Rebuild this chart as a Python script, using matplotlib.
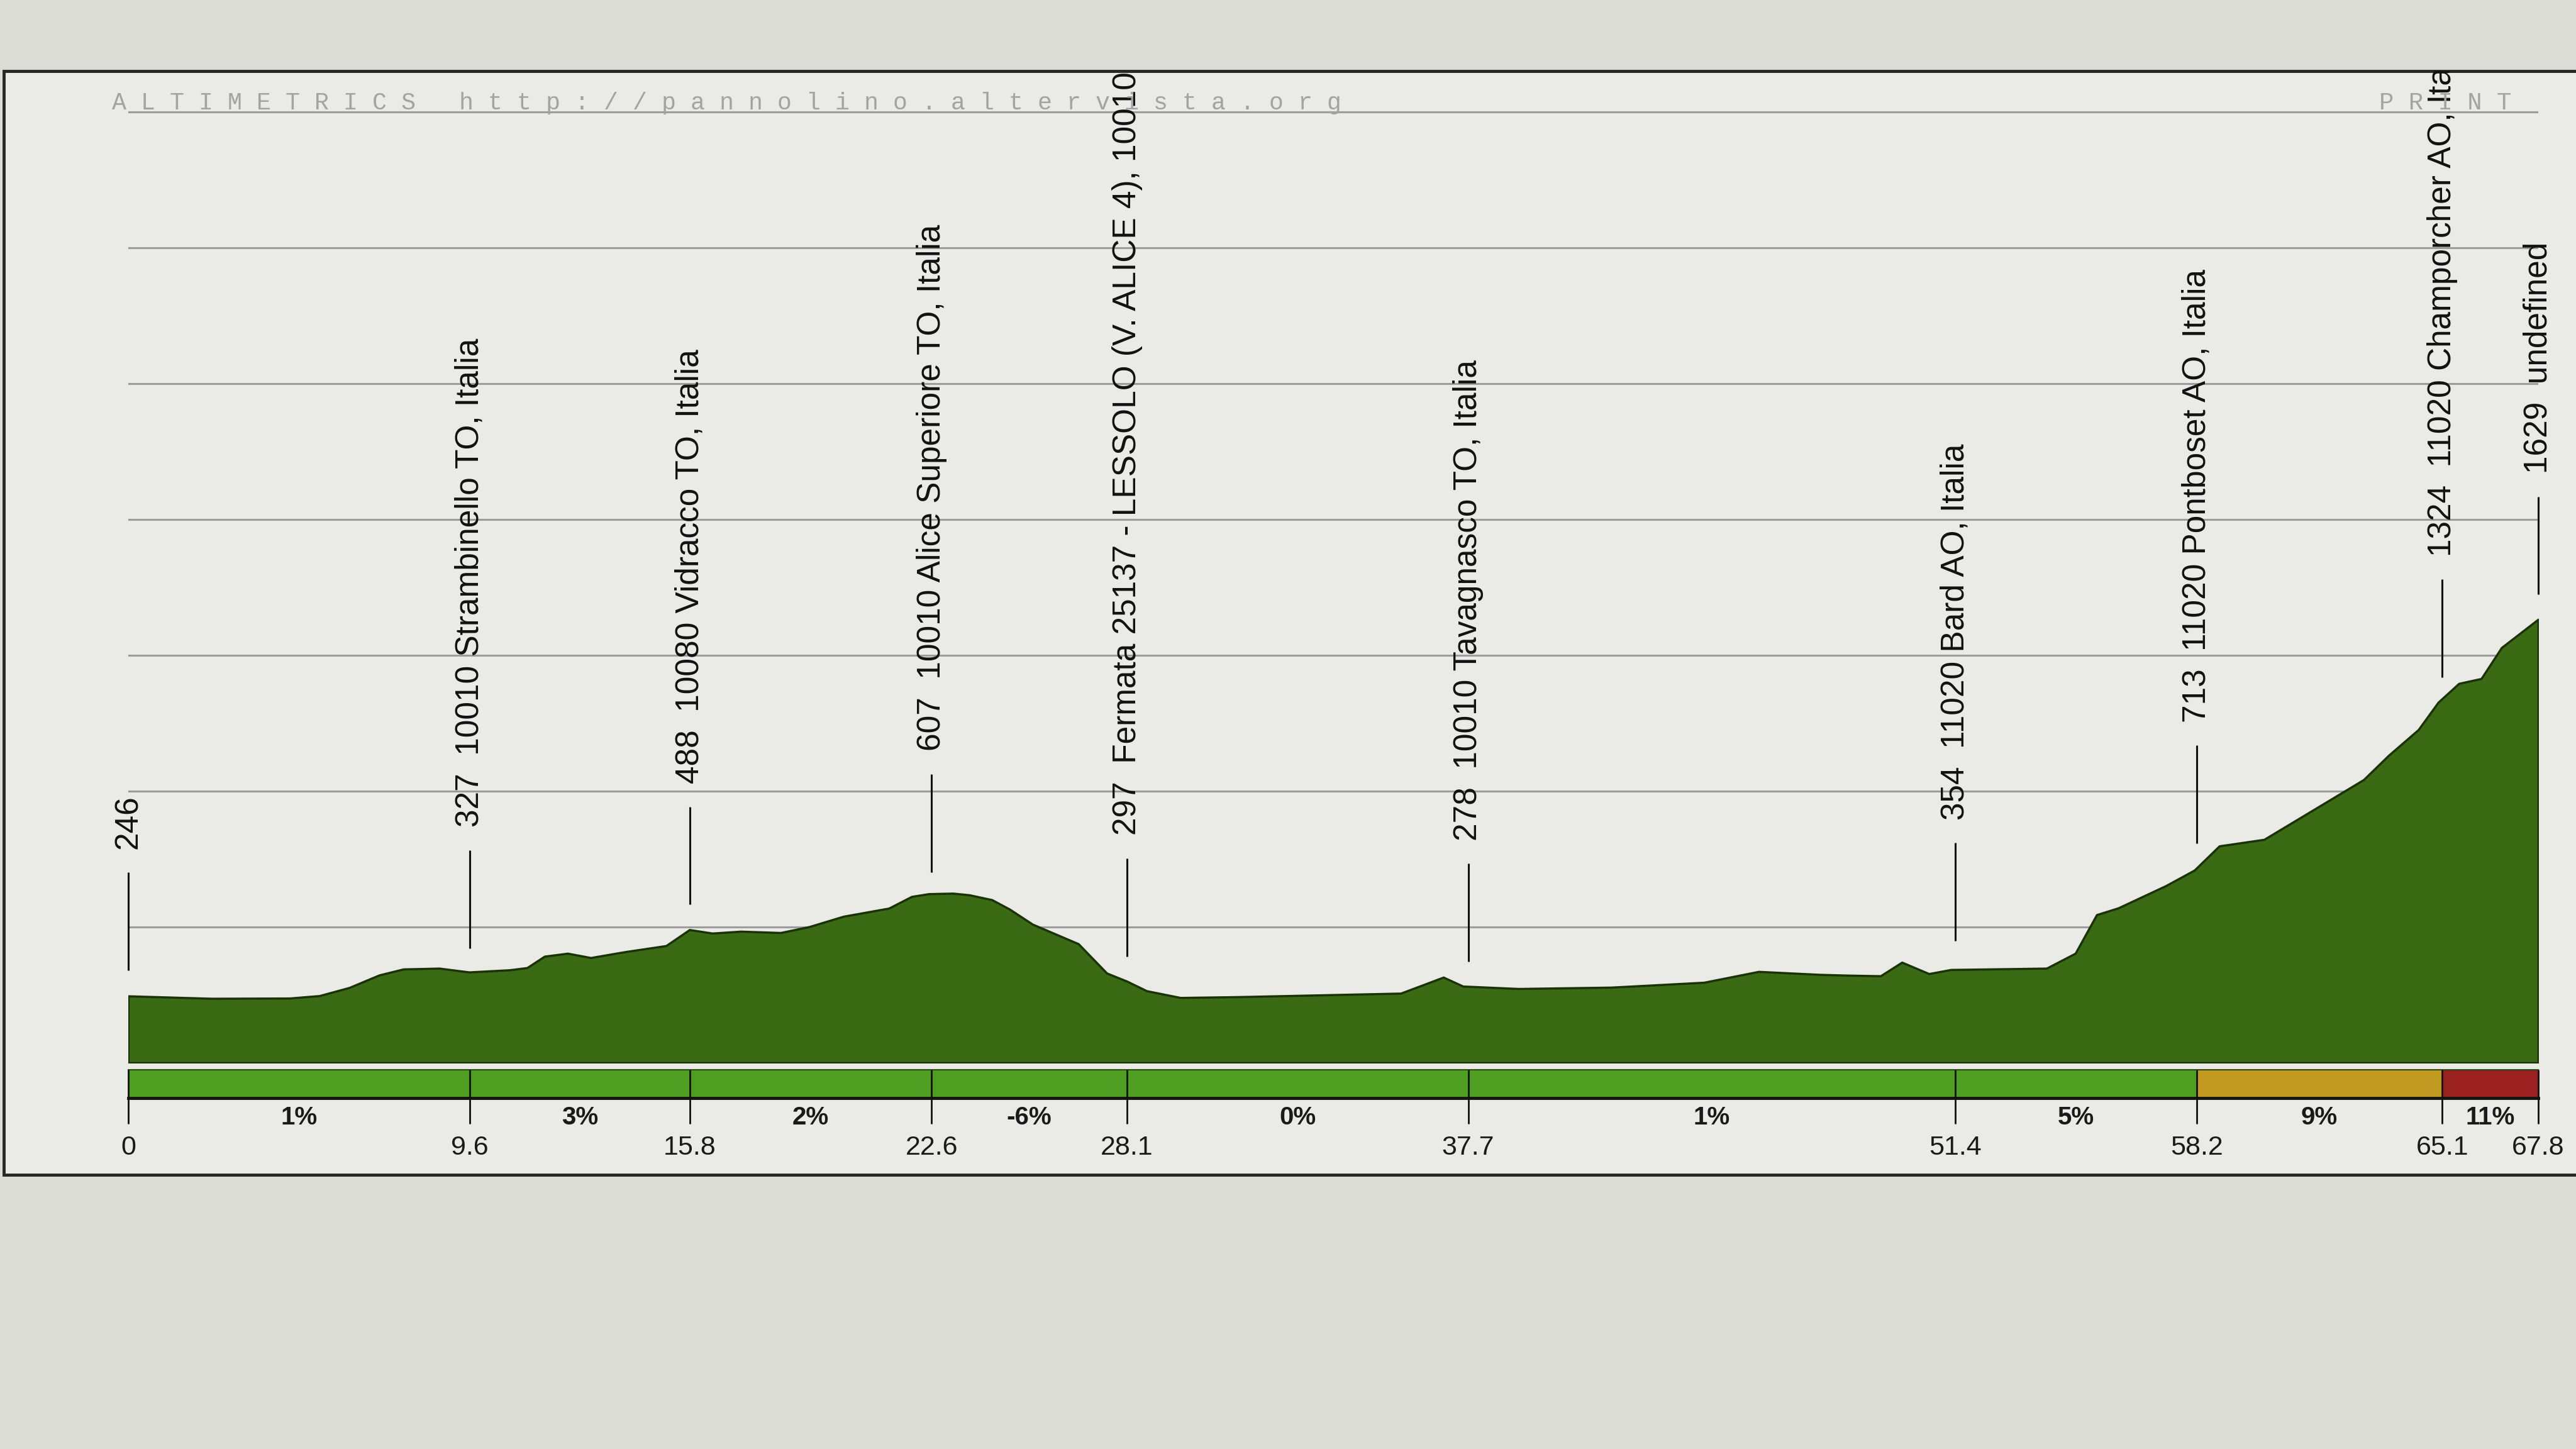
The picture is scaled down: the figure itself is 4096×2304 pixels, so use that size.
import matplotlib
matplotlib.use("Agg")
import matplotlib.pyplot as plt
from matplotlib.patches import Rectangle
from matplotlib.transforms import Bbox, TransformedBbox

# ---------------- data ----------------
profile_km = [0, 2.35, 4.54, 5.38, 6.22, 7.06, 7.74, 8.75, 9.59, 10.73,
              11.22, 11.71, 12.36, 13.01, 13.99, 15.13, 15.79, 16.43, 17.23, 18.35,
              19.16, 20.12, 21.40, 22.04, 22.52, 23.2, 23.66, 24.3, 24.8, 25.44,
              26.73, 27.53, 28.1, 28.65, 29.6, 31.2, 35.8, 37.0, 37.55, 39.11,
              41.72, 44.33, 45.87, 47.6, 48.45, 49.3, 49.9, 50.66, 51.28, 53.97,
              54.78, 55.38, 55.99, 57.33, 58.13, 58.83, 60.09, 61.21, 62.89, 63.59,
              64.43, 64.99, 65.57, 66.2, 66.77, 67.8]
profile_elev = [246, 237, 238, 247, 277, 323, 345, 348, 334, 342,
                350, 392, 403, 387, 409, 431, 490, 477, 484, 479,
                501, 539, 569, 612, 622, 624, 618, 600, 565, 510,
                438, 330, 300, 265, 240, 243, 256, 315, 282, 273,
                278, 296, 336, 325, 322, 320, 370, 328, 343, 348,
                403, 545, 570, 652, 709, 798, 822, 910, 1042, 1131,
                1226, 1327, 1396, 1414, 1528, 1632]

waypoint_km = [0, 9.6, 15.8, 22.6, 28.1, 37.7, 51.4, 58.2, 65.1, 67.8]
waypoint_elev = [246, 327, 488, 607, 297, 278, 354, 713, 1324, 1629]
waypoint_names = ["",
                  "10010 Strambinello TO, Italia",
                  "10080 Vidracco TO, Italia",
                  "10010 Alice Superiore TO, Italia",
                  "Fermata 25137 - LESSOLO (V. ALICE 4), 10010 Alice Superiore TO, Italia",
                  "10010 Tavagnasco TO, Italia",
                  "11020 Bard AO, Italia",
                  "11020 Pontboset AO, Italia",
                  "11020 Champorcher AO, Italia",
                  "undefined"]
km_labels = ["0", "9.6", "15.8", "22.6", "28.1", "37.7", "51.4", "58.2", "65.1", "67.8"]
segment_grade = [1, 3, 2, -6, 0, 1, 5, 9, 11]
grid_elev = [500, 1000, 1500, 2000, 2500, 3000, 3500]
header_left = "ALTIMETRICS"
header_url = "http://pannolino.altervista.org"
header_right = "PRINT"

# ---------------- style / layout ----------------
BG_OUT = "#dcdcd7"
BG_IN = "#eaeae6"
PROFILE = "#3b6a15"
EDGE = "#1b3209"
def grade_color(g):
    if g >= 10:
        return "#9b2020"
    if g >= 8:
        return "#c29a22"
    return "#4e9e22"

SANS = ["Liberation Sans", "DejaVu Sans"]
MONO = ["Liberation Mono", "DejaVu Sans Mono"]

L, W = 0.0498, 0.9355
FRAME_BOT, FRAME_TOP = 0.1892, 0.951
PROF_BOT = 0.2665
BAR_BOT, BAR_H = 0.2422, 0.0195
YTOP = 3650

fig = plt.figure(figsize=(40.96, 23.04), dpi=100, facecolor=BG_OUT)

frame = Rectangle((0.0015, FRAME_BOT), 1.05, FRAME_TOP - FRAME_BOT,
                  transform=fig.transFigure, facecolor=BG_IN,
                  edgecolor="#262626", lw=3.5, zorder=0)
fig.add_artist(frame)

ax = fig.add_axes([L, PROF_BOT, W, FRAME_TOP - PROF_BOT])
ax.patch.set_visible(False)
ax.set_xlim(0, waypoint_km[-1])
ax.set_ylim(0, YTOP)
ax.set_yticks(grid_elev)
ax.set_xticks([])
ax.tick_params(length=0, labelleft=False, labelbottom=False)
for s in ax.spines.values():
    s.set_visible(False)
ax.set_axisbelow(True)
ax.grid(axis="y", color="#9c9c9c", lw=2.2)

ax.fill_between(profile_km, profile_elev, 0, facecolor=PROFILE,
                edgecolor=EDGE, lw=2.5, zorder=2)

clipbox = TransformedBbox(Bbox.from_extents(0, 0, 1, FRAME_TOP), fig.transFigure)
for km, el, name in zip(waypoint_km, waypoint_elev, waypoint_names):
    ax.vlines(km, el + 95, el + 455, color="#111111", lw=2.2, clip_on=False, zorder=4)
    label = f"{el}  {name}" if name else f"{el}"
    t = ax.text(km, el + 540, label, rotation=90, ha="center", va="bottom",
                fontsize=37, family=SANS, color="#111111", zorder=5)
    t.set_clip_box(clipbox)
    t.set_clip_on(True)

# gradient bar
bax = fig.add_axes([L, BAR_BOT, W, BAR_H])
bax.set_xlim(0, waypoint_km[-1])
bax.set_ylim(0, 1)
bax.axis("off")
for i, g in enumerate(segment_grade):
    bax.axvspan(waypoint_km[i], waypoint_km[i + 1], color=grade_color(g), lw=0)
    mid = 0.5 * (waypoint_km[i] + waypoint_km[i + 1])
    bax.text(mid, -0.68, f"{g}%", ha="center", va="center", fontsize=29,
             fontweight="bold", family=SANS, color="#1a1a1a", clip_on=False)
bax.axhline(0, color="#141414", lw=3.5, clip_on=False)
bax.axhline(1, color="#2a4a12", lw=1.5, clip_on=False)
bax.vlines(waypoint_km, -0.92, 1, color="#111111", lw=2, clip_on=False)
for km, lab in zip(waypoint_km, km_labels):
    bax.text(km, -1.75, lab, ha="center", va="center", fontsize=31,
             family=SANS, color="#1a1a1a", clip_on=False)

# header texts
y_hdr = PROF_BOT + 3500 / YTOP * (FRAME_TOP - PROF_BOT) + 0.0015
fig.text(0.0434, y_hdr, " ".join(header_left) + "   " + " ".join(header_url),
         family=MONO, fontsize=27.5, color="#a3a3a3", va="baseline", ha="left")
fig.text(0.975, y_hdr, " ".join(header_right), family=MONO, fontsize=28,
         color="#a3a3a3", va="baseline", ha="right")

fig.savefig("out.png", dpi=100, facecolor=BG_OUT)
